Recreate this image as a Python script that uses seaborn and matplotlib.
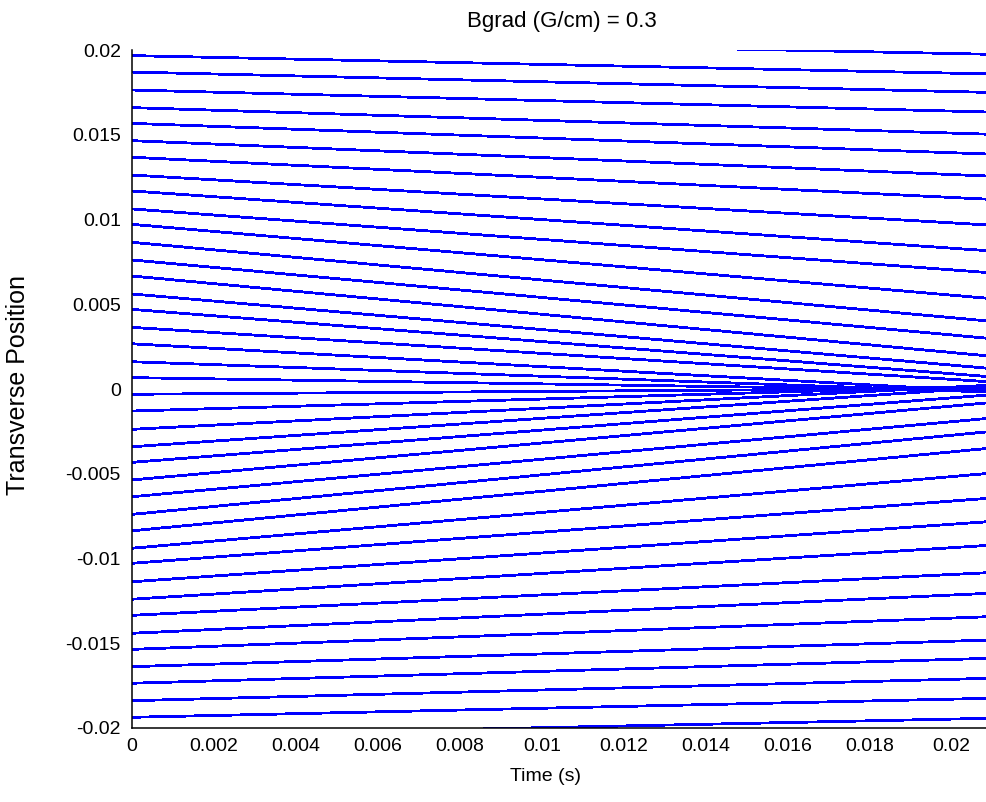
import matplotlib
matplotlib.use("Agg")
import matplotlib.pyplot as plt
import seaborn as sns
import pandas as pd

# ---- data ----
times = [0.0, 0.0209]
y_start = [0.0208, 0.01968, 0.01871, 0.01765, 0.01661, 0.01568, 0.01466, 0.01368,
           0.01263, 0.01169, 0.01063, 0.00972, 0.00866, 0.00762, 0.00667, 0.00561,
           0.0047, 0.00364, 0.00267, 0.00161, 0.00067, -0.00031, -0.0013, -0.00238,
           -0.00341, -0.00433, -0.00537, -0.00636, -0.0074, -0.00837, -0.0094,
           -0.01029, -0.01138, -0.01241, -0.01336, -0.01442, -0.01537, -0.01639,
           -0.01737, -0.0184, -0.01938, -0.0205]
y_end = [0.01976, 0.0186, 0.01751, 0.01635, 0.01504, 0.01387, 0.01257, 0.0112,
         0.00968, 0.00816, 0.00687, 0.00535, 0.00401, 0.00299, 0.00195, 0.00122,
         0.00073, 0.00043, -0.00015, -0.00018, -0.0001, 0.00004, 0.00018, 0.00022,
         0.0001, -0.00035, -0.00081, -0.00173, -0.00252, -0.0035, -0.00498,
         -0.00645, -0.00783, -0.00923, -0.01084, -0.01206, -0.01344, -0.01482,
         -0.0159, -0.01708, -0.01826, -0.01944]
x_ticks = [0, 0.002, 0.004, 0.006, 0.008, 0.01, 0.012, 0.014, 0.016, 0.018, 0.02]
x_tick_labels = ["0", "0.002", "0.004", "0.006", "0.008", "0.01", "0.012", "0.014",
                 "0.016", "0.018", "0.02"]
y_ticks = [-0.02, -0.015, -0.01, -0.005, 0, 0.005, 0.01, 0.015, 0.02]
y_tick_labels = ["-0.02", "-0.015", "-0.01", "-0.005", "0", "0.005", "0.01", "0.015", "0.02"]
title_text = "Bgrad (G/cm) = 0.3"
x_label = "Time (s)"
y_label = "Transverse Position"

rows = []
for i, (a, b) in enumerate(zip(y_start, y_end)):
    rows.append({"line": i, "t": times[0], "y": a})
    rows.append({"line": i, "t": times[1], "y": b})
df = pd.DataFrame(rows)

sns.set_style("white")
plt.rcParams["font.family"] = ["Liberation Sans", "DejaVu Sans"]

fig = plt.figure(figsize=(9.87, 8.02), dpi=100)
ax = fig.add_axes([132 / 987, (802 - 727.8) / 802, 860.7 / 987, (727.8 - 50.2) / 802])

sns.lineplot(data=df, x="t", y="y", units="line", estimator=None, color="#0000FF",
             linewidth=1.3, antialiased=False, legend=False, ax=ax)

ax.set_xlim(0, 0.021)
ax.set_ylim(-0.02, 0.02)
ax.set_xticks(x_ticks)
ax.set_xticklabels(x_tick_labels)
ax.set_yticks(y_ticks)
ax.set_yticklabels(y_tick_labels)

for s in ["top", "right"]:
    ax.spines[s].set_visible(False)
for s in ["left", "bottom"]:
    ax.spines[s].set_color("black")
    ax.spines[s].set_linewidth(1.1)

ax.tick_params(axis="both", direction="in", length=6, width=0.9, color="black",
               labelsize=14, labelcolor="black")
ax.tick_params(axis="x", pad=7)
ax.tick_params(axis="y", pad=8)

ax.set_title(title_text, fontsize=16, pad=17, color="black")
ax.set_xlabel(x_label, fontsize=14, color="black")
ax.xaxis.set_label_coords((546 - 132) / 860.7, (727.8 - 768) / 677.6)
ax.set_ylabel(y_label, fontsize=18, color="black")
ax.yaxis.set_label_coords((30 - 132) / 860.7, (727.8 - 385) / 677.6)

fig.savefig("out.png", dpi=100, facecolor="white")
